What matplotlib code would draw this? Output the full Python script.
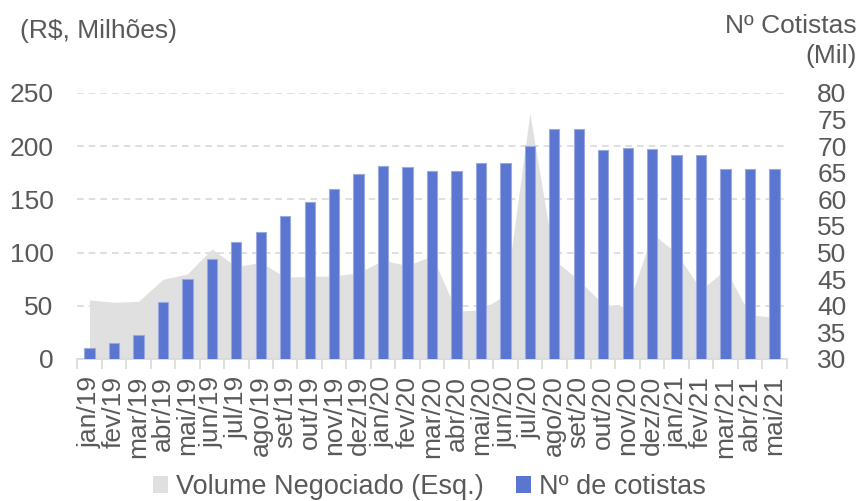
import matplotlib
matplotlib.use("Agg")
import matplotlib.pyplot as plt
from matplotlib.patches import Patch
import numpy as np

plt.rcParams['font.family'] = ['Liberation Sans', 'DejaVu Sans']

months = ["jan/19", "fev/19", "mar/19", "abr/19", "mai/19", "jun/19", "jul/19", "ago/19",
          "set/19", "out/19", "nov/19", "dez/19", "jan/20", "fev/20", "mar/20", "abr/20",
          "mai/20", "jun/20", "jul/20", "ago/20", "set/20", "out/20", "nov/20", "dez/20",
          "jan/21", "fev/21", "mar/21", "abr/21", "mai/21"]

volume = [55.5, 53.3, 54.2, 74.9, 79.9, 103.4, 86.8, 90.9, 76.8, 77.7, 78.0, 81.1,
          93.0, 87.7, 97.1, 45.1, 46.0, 60.2, 230.9, 93.0, 74.2, 51.4, 49.2, 118.1,
          99.3, 64.8, 84.3, 41.4, 39.2]

cotistas = [32.1, 33.1, 34.6, 40.7, 45.0, 48.8, 51.9, 53.9, 56.8, 59.6, 62.0, 64.8,
            66.2, 66.1, 65.3, 65.3, 66.8, 66.8, 70.1, 73.2, 73.2, 69.2, 69.7, 69.5,
            68.3, 68.3, 65.7, 65.8, 65.7]

left_ticks = [0, 50, 100, 150, 200, 250]
right_ticks = [30, 35, 40, 45, 50, 55, 60, 65, 70, 75, 80]

TXT = "#595959"
GRAY_AREA = "#E0E0E0"
BAR = "#5A76D0"
GRID = "#D9D9D9"
FS = 19

fig = plt.figure(figsize=(8.59, 5.01), dpi=100)
ax = fig.add_axes([77.3/859, 1-359/501, (786.7-77.3)/859, (359-93)/501])
ax2 = ax.twinx()

x = np.arange(len(months))

ax.set_axisbelow(True)
ax.yaxis.grid(True, color=GRID, linestyle=(0, (4, 3)), linewidth=1.2)
ax.fill_between(x, volume, 0, color=GRAY_AREA, linewidth=0, zorder=2)
ax.set_ylim(0, 250)
ax.set_xlim(-0.5, len(months) - 0.5)
ax.set_yticks(left_ticks)
ax.set_yticklabels([str(t) for t in left_ticks])

ax2.bar(x, cotistas, width=0.42, color=BAR, edgecolor="#9AAAE0", linewidth=0.8, zorder=3)
ax2.set_ylim(30, 80)
ax2.set_yticks(right_ticks)
ax2.set_yticklabels([str(t) for t in right_ticks])

for a in (ax, ax2):
    for s in a.spines.values():
        s.set_visible(False)
ax.spines['bottom'].set_visible(True)
ax.spines['bottom'].set_color(GRID)
ax.spines['bottom'].set_linewidth(1.2)

ax.tick_params(axis='y', length=0, labelsize=FS, labelcolor=TXT, pad=17)
ax2.tick_params(axis='y', length=0, labelsize=FS, labelcolor=TXT, pad=22)
for lab in ax2.get_yticklabels():
    lab.set_horizontalalignment('left')

ax.set_xticks(x)
ax.set_xticklabels(months, rotation=90, fontsize=19, color=TXT)
ax.tick_params(axis='x', which='major', length=0, pad=12)
ax.set_xticks(np.arange(-0.5, len(months), 1.0), minor=True)
ax.tick_params(axis='x', which='minor', length=7, color=GRID, width=1.2)

fig.text(20/859, 1-19/501, "(R$, Milhões)", fontsize=FS, color=TXT, ha='left', va='top')
fig.text(857/859, 1-14/501, "Nº Cotistas", fontsize=FS, color=TXT, ha='right', va='top')
fig.text(857/859, 1-44/501, "(Mil)", fontsize=FS, color=TXT, ha='right', va='top')

handles = [Patch(facecolor=GRAY_AREA, edgecolor='none', label="Volume Negociado (Esq.)"),
           Patch(facecolor=BAR, edgecolor='none', label="Nº de cotistas")]
leg = fig.legend(handles=handles, loc='lower center', bbox_to_anchor=(0.5, -0.047), ncol=2,
                 frameon=False, fontsize=19.5, handlelength=0.55, handleheight=0.55,
                 handletextpad=0.3, columnspacing=1.2, labelcolor=TXT)

fig.savefig("out.png", dpi=100)
